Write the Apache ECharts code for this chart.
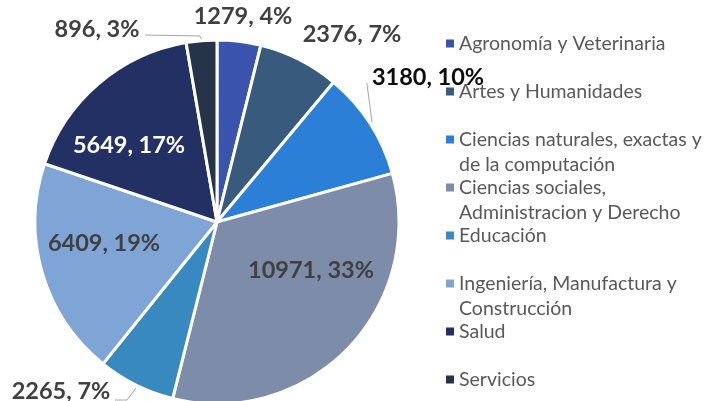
<!DOCTYPE html>
<html>
<head>
<meta charset="utf-8">
<script src="https://cdn.jsdelivr.net/npm/echarts@6/dist/echarts.min.js"></script>
<style>
  html, body { margin: 0; padding: 0; background: #fff; }
  #chart { width: 706px; height: 401px; }
</style>
</head>
<body>
<div id="chart"></div>
<script>
// datos
var categories = ['Agronomía y Veterinaria', 'Artes y Humanidades', 'Ciencias naturales, exactas y de la computación',
  'Ciencias sociales, Administracion y Derecho', 'Educación', 'Ingeniería, Manufactura y Construcción', 'Salud', 'Servicios'];
var values = [1279, 2376, 3180, 10971, 2265, 6409, 5649, 896];
var percents = ['4%', '7%', '10%', '33%', '7%', '19%', '17%', '3%'];
// texto de la leyenda con cortes de linea
var legendText = ['Agronomía y Veterinaria', 'Artes y Humanidades', 'Ciencias naturales, exactas y\nde la computación',
  'Ciencias sociales,\nAdministracion y Derecho', 'Educación', 'Ingeniería, Manufactura y\nConstrucción', 'Salud', 'Servicios'];
var colors = ['#3A53AC', '#385A7C', '#2B7FD7', '#7D8CA8', '#3889C0', '#7EA5D5', '#233064', '#263449'];

// posiciones de etiquetas (como en el original)
var labelPos = [[243, 16], [352, 34], [428, 77], [311, 270], [61, 391], [104, 243], [129, 145], [97, 29]];
var labelColor = ['#404040', '#404040', '#0D0D0D', '#404040', '#404040', '#404040', '#FFFFFF', '#404040'];
var labelLines = {
  2: [[367, 83], [367, 84], [372, 122]],
  4: [[115, 400], [127, 400], [136, 388]],
  7: [[145, 35], [200, 36], [202, 40]]
};

var chart = echarts.init(document.getElementById('chart'));

var data = categories.map(function (name, i) {
  return {
    name: name,
    value: values[i],
    itemStyle: { color: colors[i] },
    label: { color: labelColor[i] },
    labelLine: { show: labelLines[i] !== undefined }
  };
});

var option = {
  backgroundColor: '#ffffff',
  animation: false,
  legend: {
    orient: 'vertical',
    left: 446,
    top: 6,
    height: 1000,
    padding: 0,
    itemWidth: 8,
    itemHeight: 8,
    itemGap: -27,
    icon: 'rect',
    itemStyle: { borderWidth: 0 },
    data: categories,
    formatter: function (name) {
      var t = legendText[categories.indexOf(name)];
      return t.indexOf('\n') >= 0 ? '\n' + t : '\n' + t + '\n';
    },
    textStyle: {
      fontFamily: 'Lato',
      fontSize: 19.5,
      lineHeight: 25,
      color: '#595959'
    }
  },
  series: [{
    type: 'pie',
    center: [217, 222],
    radius: 182,
    startAngle: 90,
    clockwise: true,
    avoidLabelOverlap: false,
    itemStyle: { borderColor: '#ffffff', borderWidth: 3 },
    label: {
      position: 'outside',
      overflow: 'none',
      fontFamily: 'Lato',
      fontWeight: 'bold',
      fontSize: 23.5,
      formatter: function (p) {
        return values[p.dataIndex] + ', ' + percents[p.dataIndex];
      }
    },
    labelLine: { lineStyle: { color: '#A6A6A6', width: 1 } },
    labelLayout: function (p) {
      var i = p.dataIndex;
      var res = { x: labelPos[i][0], y: labelPos[i][1], align: 'center', verticalAlign: 'middle', hideOverlap: false };
      if (labelLines[i]) res.labelLinePoints = labelLines[i];
      return res;
    },
    emphasis: { disabled: true },
    data: data
  }]
};

chart.setOption(option);
</script>
</body>
</html>
